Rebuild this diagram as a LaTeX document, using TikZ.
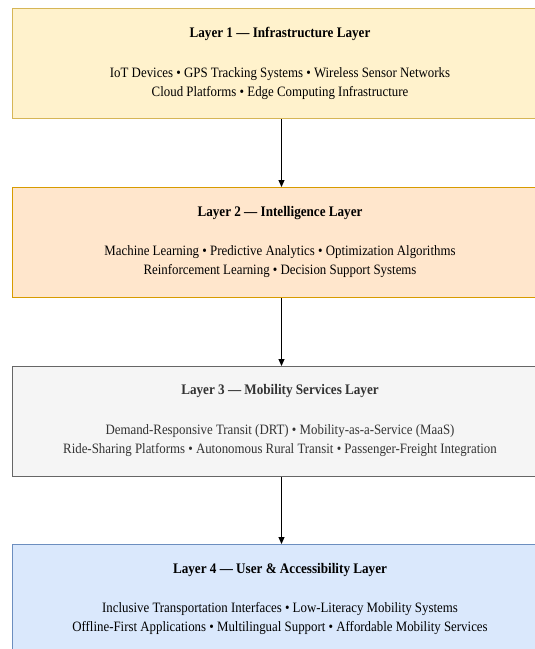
\documentclass[tikz,border=0pt]{standalone}
\usepackage{fontspec}
\setmainfont[FakeStretch=0.9]{Liberation Serif}
\usetikzlibrary{arrows.meta}
\definecolor{f1}{HTML}{FFF2CC}\definecolor{s1}{HTML}{D6B656}
\definecolor{f2}{HTML}{FFE6CC}\definecolor{s2}{HTML}{D79B00}
\definecolor{f3}{HTML}{F5F5F5}\definecolor{s3}{HTML}{666666}
\definecolor{f4}{HTML}{DAE8FC}\definecolor{s4}{HTML}{6C8EBF}
\definecolor{t3}{HTML}{333333}
\begin{document}
\begin{tikzpicture}[x=1pt,y=-1pt,
  layer/.style={draw, line width=1pt, minimum width=538pt, minimum height=110pt, inner sep=0pt, anchor=north west},
  ttl/.style={font=\fontsize{14.6}{16}\selectfont\bfseries, inner sep=0pt},
  body/.style={font=\fontsize{14.3}{19}\selectfont, align=center, inner sep=0pt},
  arr/.style={-{Triangle[length=7pt,width=6pt]}, line width=0.9pt, black}]
\useasboundingbox (0,0) rectangle (535,649);
\node[layer, fill=f1, draw=s1] (L1) at (12,8) {};
\node[layer, fill=f2, draw=s2] (L2) at (12,187) {};
\node[layer, fill=f3, draw=s3] (L3) at (12,366) {};
\node[layer, fill=f4, draw=s4] (L4) at (12,544) {};
\node[ttl] (T1) at (280,34) {Layer 1 — Infrastructure Layer};
\node[body] (B1) at (280,83.5) {IoT Devices • GPS Tracking Systems • Wireless Sensor Networks\\Cloud Platforms • Edge Computing Infrastructure};
\node[ttl] (T2) at (280,213) {Layer 2 — Intelligence Layer};
\node[body] (B2) at (280,261.5) {Machine Learning • Predictive Analytics • Optimization Algorithms\\Reinforcement Learning • Decision Support Systems};
\node[ttl, text=t3] (T3) at (280,391) {Layer 3 — Mobility Services Layer};
\node[body, text=t3] (B3) at (280,440.5) {Demand-Responsive Transit (DRT) • Mobility-as-a-Service (MaaS)\\Ride-Sharing Platforms • Autonomous Rural Transit • Passenger-Freight Integration};
\node[ttl] (T4) at (280,570) {Layer 4 — User \& Accessibility Layer};
\node[body] (B4) at (280,619) {Inclusive Transportation Interfaces • Low-Literacy Mobility Systems\\Offline-First Applications • Multilingual Support • Affordable Mobility Services};
\draw[arr] (L1.south) -- (L2.north);
\draw[arr] (L2.south) -- (L3.north);
\draw[arr] (L3.south) -- (L4.north);
\end{tikzpicture}
\end{document}
